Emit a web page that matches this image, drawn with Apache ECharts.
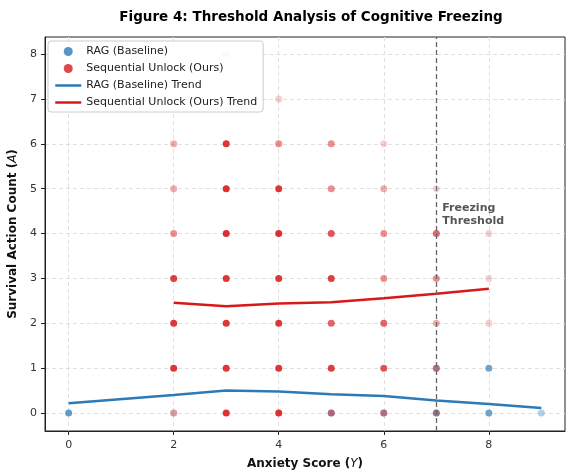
<!DOCTYPE html>
<html>
<head>
<meta charset="utf-8">
<script src="https://cdn.jsdelivr.net/npm/echarts@6/dist/echarts.min.js"></script>
<style>
  html, body { margin: 0; padding: 0; background: #fff; }
  #main { width: 566px; height: 471px; }
</style>
</head>
<body>
<div id="main"></div>
<script>
// [anxiety score, survival actions, number of episodes at that cell]
const ragPoints = [
  [0, 0, 6], [2, 0, 1], [5, 0, 4], [6, 0, 3], [7, 0, 5], [7, 1, 3],
  [8, 0, 5], [8, 1, 5], [9, 0, 2]
];
const seqPoints = [
  [2, 6, 2], [2, 5, 2], [2, 4, 3], [2, 3, 8], [2, 2, 9], [2, 1, 9], [2, 0, 2],
  [3, 8, 1], [3, 6, 9], [3, 5, 10], [3, 4, 10], [3, 3, 9], [3, 2, 9], [3, 1, 9], [3, 0, 10],
  [4, 7, 1], [4, 6, 3], [4, 5, 9], [4, 4, 10], [4, 3, 9], [4, 2, 9], [4, 1, 9], [4, 0, 10],
  [5, 6, 3], [5, 5, 3], [5, 4, 6], [5, 3, 8], [5, 2, 5], [5, 1, 8], [5, 0, 3],
  [6, 6, 1], [6, 5, 2], [6, 4, 3], [6, 3, 3], [6, 2, 5], [6, 1, 6], [6, 0, 3],
  [7, 5, 1], [7, 4, 5], [7, 3, 3], [7, 2, 2], [7, 1, 3], [7, 0, 2],
  [8, 4, 1], [8, 3, 1], [8, 2, 1]
];
// mean survival actions per anxiety score
const ragTrend = [[0, 0.22], [2, 0.40], [3, 0.50], [4, 0.48], [5, 0.42], [6, 0.38], [7, 0.28], [8, 0.20], [9, 0.11]];
const seqTrend = [[2, 2.46], [3, 2.38], [4, 2.44], [5, 2.47], [6, 2.56], [7, 2.66], [8, 2.77]];
const xTicks = [0, 2, 4, 6, 8];
const yTicks = [0, 1, 2, 3, 4, 5, 6, 7, 8];
const threshold = 7;

const BLUE = '#2c7bb6';
const RED = '#d7191c';
const ALPHA = 0.2;

function toItems(points) {
  return points.map(p => ({
    value: [p[0], p[1]],
    itemStyle: { opacity: 1 - Math.pow(1 - ALPHA, p[2]) }
  }));
}

const chart = echarts.init(document.getElementById('main'));
const axisText = { color: '#333', fontSize: 11, fontFamily: 'DejaVu Sans' };
const nameStyle = {
  fontSize: 12, fontWeight: 'bold', color: '#111', fontFamily: 'DejaVu Sans',
  rich: { i: { fontStyle: 'italic', fontSize: 12, fontWeight: 'normal', color: '#111', fontFamily: 'DejaVu Sans' } }
};

chart.setOption({
  animation: false,
  title: {
    text: 'Figure 4: Threshold Analysis of Cognitive Freezing',
    left: 306, top: 5, textAlign: 'center',
    textStyle: { fontSize: 13.5, fontWeight: 'bold', color: '#000', fontFamily: 'DejaVu Sans' }
  },
  grid: {
    left: 45, right: 1, top: 37, bottom: 40, outerBoundsMode: 'none',
    show: true, borderColor: '#222', borderWidth: 1
  },
  legend: {
    orient: 'vertical', left: 48, top: 41,
    itemWidth: 26, itemHeight: 9, itemGap: 6,
    padding: [5, 6, 4, 6],
    backgroundColor: 'rgba(255,255,255,0.85)',
    borderColor: '#ccc', borderWidth: 1, borderRadius: 3,
    textStyle: { fontSize: 11, color: '#222', fontFamily: 'DejaVu Sans' },
    data: [
      { name: 'RAG (Baseline)', icon: 'circle' },
      { name: 'Sequential Unlock (Ours)', icon: 'circle' },
      { name: 'RAG (Baseline) Trend', icon: 'line', itemStyle: { borderWidth: 2.5, borderColor: BLUE } },
      { name: 'Sequential Unlock (Ours) Trend', icon: 'line', itemStyle: { borderWidth: 2.5, borderColor: RED } }
    ]
  },
  xAxis: {
    type: 'value', min: -0.45, max: 9.45, interval: 2,
    name: 'Anxiety Score ({i|Y})', nameLocation: 'middle', nameGap: 27,
    nameTextStyle: nameStyle,
    axisLine: { show: true, onZero: false, lineStyle: { color: '#222' } },
    axisTick: { show: true, length: 4, lineStyle: { color: '#222' }, customValues: xTicks },
    axisLabel: Object.assign({ customValues: xTicks, margin: 9 }, axisText),
    splitLine: { show: true, lineStyle: { color: '#e0e0e0', type: [4, 3] } }
  },
  yAxis: {
    type: 'value', min: -0.4, max: 8.38,
    name: 'Survival Action Count ({i|A})', nameLocation: 'middle', nameGap: 22,
    nameTextStyle: nameStyle,
    axisLine: { show: true, onZero: false, lineStyle: { color: '#222' } },
    axisTick: { show: true, length: 4, lineStyle: { color: '#222' }, customValues: yTicks },
    axisLabel: Object.assign({ customValues: yTicks, margin: 8 }, axisText),
    splitLine: { show: true, lineStyle: { color: '#e0e0e0', type: [4, 3] } }
  },
  series: [
    {
      name: 'RAG (Baseline)', type: 'scatter', symbolSize: 7,
      itemStyle: { color: BLUE }, data: toItems(ragPoints), z: 2
    },
    {
      name: 'Sequential Unlock (Ours)', type: 'scatter', symbolSize: 7,
      itemStyle: { color: RED }, data: toItems(seqPoints), z: 3
    },
    {
      name: 'RAG (Baseline) Trend', type: 'line', symbol: 'none',
      lineStyle: { color: BLUE, width: 2.5 }, itemStyle: { color: BLUE },
      data: ragTrend, z: 4
    },
    {
      name: 'Sequential Unlock (Ours) Trend', type: 'line', symbol: 'none',
      lineStyle: { color: RED, width: 2.5 }, itemStyle: { color: RED },
      data: seqTrend, z: 4,
      markLine: {
        silent: true, symbol: 'none', z: 6,
        label: { show: false },
        lineStyle: { color: '#666', type: [5, 3], width: 1.3 },
        data: [{ xAxis: threshold }]
      }
    }
  ]
});

const pos = chart.convertToPixel({ gridIndex: 0 }, [threshold, 4.72]);
chart.setOption({
  graphic: [{
    type: 'text', left: pos[0] + 6, top: pos[1],
    style: {
      text: 'Freezing\nThreshold', fill: '#555', fontSize: 11, fontWeight: 'bold',
      fontFamily: 'DejaVu Sans', lineHeight: 13
    }
  }]
});
</script>
</body>
</html>
